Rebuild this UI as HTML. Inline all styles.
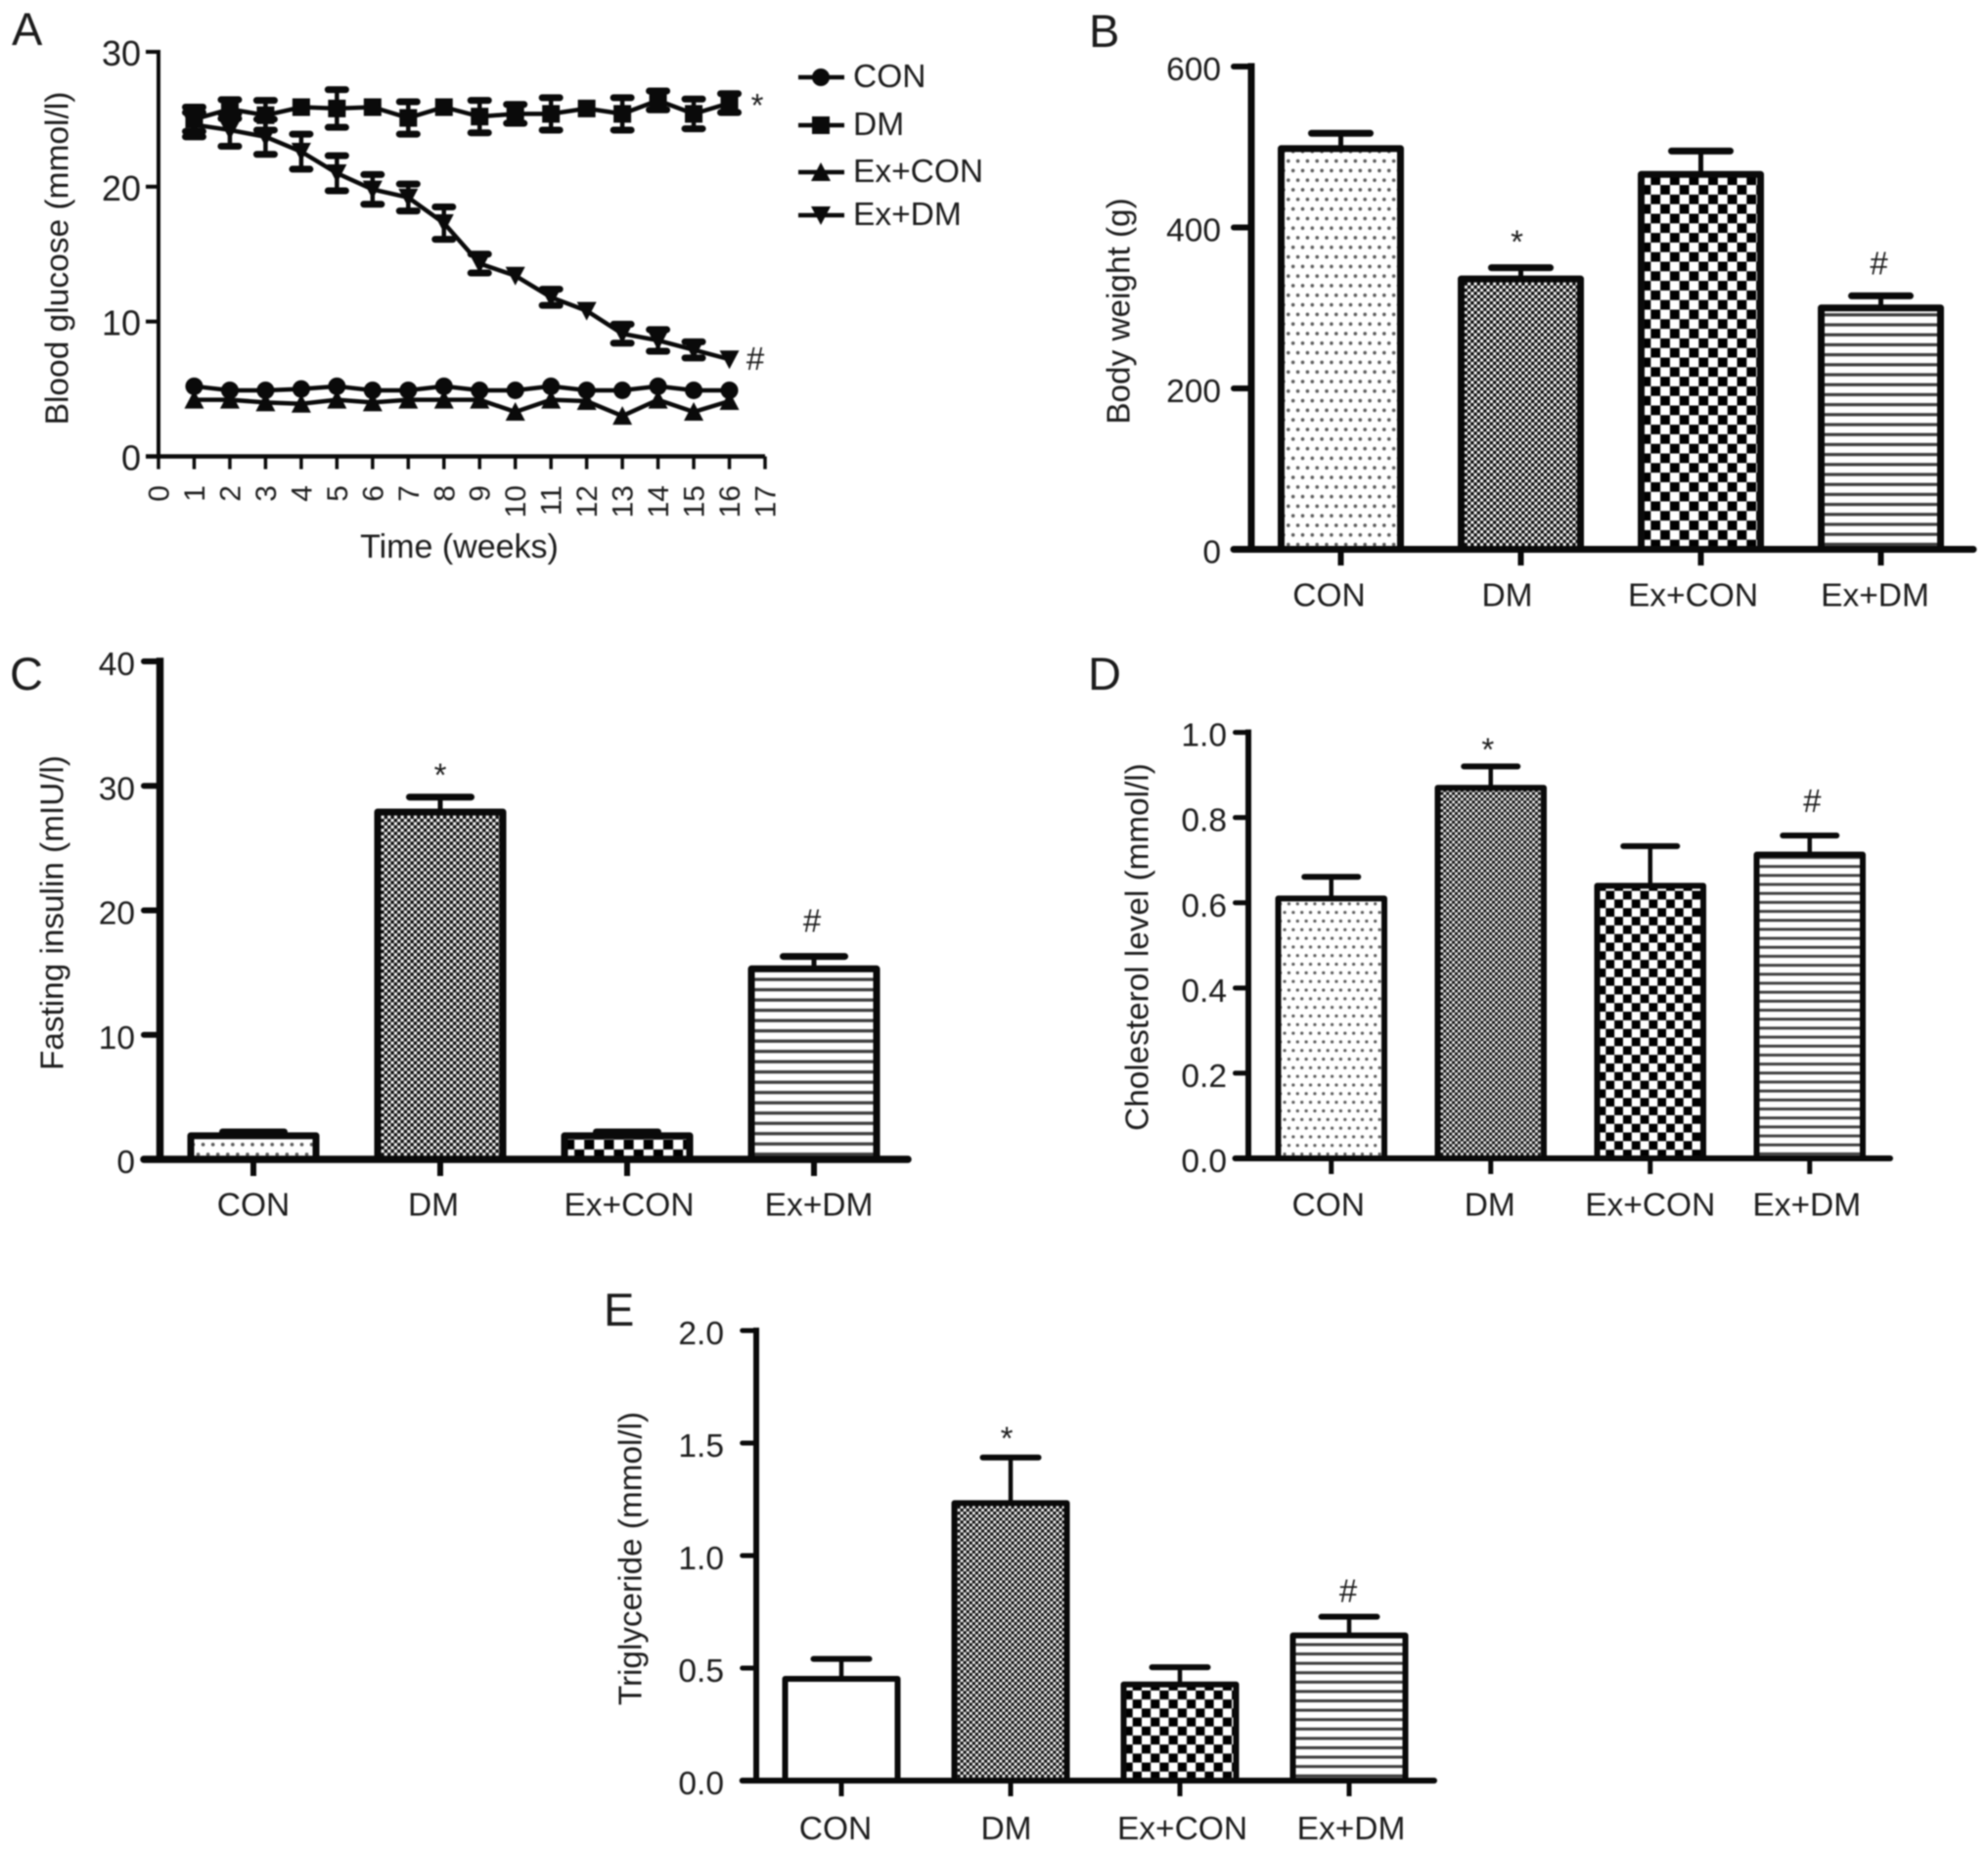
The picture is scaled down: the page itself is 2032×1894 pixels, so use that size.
<!DOCTYPE html>
<html lang="en">
<head>
<meta charset="utf-8">
<title>Blood glucose, body weight, insulin, cholesterol and triglyceride panels</title>
<style>
html,body{margin:0;padding:0;background:#fff;}
svg{display:block;filter:blur(0.7px);}
text{font-family:"Liberation Sans",Arial,sans-serif;fill:#1c1c1c;}
</style>
</head>
<body>
<svg id="figure" xmlns="http://www.w3.org/2000/svg" width="2032" height="1894" viewBox="0 0 2032 1894">
<rect width="2032" height="1894" fill="#fff"/>
<defs id="defs"></defs>
</svg>
<script>
/* ---------- data ---------- */
const categories = ['CON', 'DM', 'Ex+CON', 'Ex+DM'];
const significance = ['', '*', '', '#'];

const bodyWeightValues = [498, 336, 466, 300];
const bodyWeightErrors = [19, 14, 29, 15];
const bodyWeightTicks = ['0', '200', '400', '600'];

const insulinValues = [1.9, 27.9, 1.9, 15.3];
const insulinErrors = [0.3, 1.2, 0.3, 1.0];
const insulinTicks = ['0', '10', '20', '30', '40'];

const cholesterolValues = [0.61, 0.87, 0.64, 0.713];
const cholesterolErrors = [0.051, 0.05, 0.093, 0.045];
const cholesterolTicks = ['0.0', '0.2', '0.4', '0.6', '0.8', '1.0'];

const triglycerideValues = [0.452, 1.233, 0.427, 0.645];
const triglycerideErrors = [0.089, 0.203, 0.077, 0.083];
const triglycerideTicks = ['0.0', '0.5', '1.0', '1.5', '2.0'];

const weeks = [1, 2, 3, 4, 5, 6, 7, 8, 9, 10, 11, 12, 13, 14, 15, 16];
const weekTicks = [0, 1, 2, 3, 4, 5, 6, 7, 8, 9, 10, 11, 12, 13, 14, 15, 16, 17];
const glucoseTicks = ['0', '10', '20', '30'];
const conGlucose = [5.2, 4.9, 4.9, 5.0, 5.2, 4.9, 4.9, 5.2, 4.9, 4.9, 5.2, 4.9, 4.9, 5.2, 4.9, 4.9];
const dmGlucose = [25.0, 25.75, 25.3, 25.9, 25.8, 25.9, 25.1, 25.9, 25.2, 25.4, 25.4, 25.8, 25.4, 26.4, 25.4, 26.2];
const dmGlucoseErrors = [0.9, 0.7, 1.1, 0, 1.4, 0, 1.2, 0, 1.2, 0.7, 1.2, 0, 1.2, 0.7, 1.1, 0.7];
const exConGlucose = [4.2, 4.2, 4.0, 3.9, 4.2, 4.0, 4.2, 4.2, 4.2, 3.3, 4.2, 4.1, 3.0, 4.2, 3.3, 4.1];
const exDmGlucose = [24.6, 24.2, 23.7, 22.6, 21.0, 19.8, 19.2, 17.3, 14.3, 13.4, 11.8, 10.8, 9.1, 8.6, 7.9, 7.2];
const exDmGlucoseErrors = [0.9, 1.2, 1.3, 1.3, 1.3, 1.1, 1.0, 1.2, 0.7, 0, 0.6, 0, 0.7, 0.8, 0.6, 0];
const legendLabels = ['CON', 'DM', 'Ex+CON', 'Ex+DM'];

/* ---------- helpers ---------- */
const NS = 'http://www.w3.org/2000/svg';
const svg = document.getElementById('figure');
const defs = document.getElementById('defs');
const INK = '#0a0a0a';

function mk(tag, parent, attrs) {
  const node = document.createElementNS(NS, tag);
  for (const key in attrs) node.setAttribute(key, attrs[key]);
  parent.appendChild(node);
  return node;
}
function slug(s) {
  return s.toLowerCase().replace(/\+/g, '-').replace(/[^a-z0-9-]/g, '');
}
let patternId = 0;
function makePattern(kind, scale, originX, originY) {
  const id = 'fill-' + (patternId++);
  const base = 9.8;
  const tileW = kind === 'dots' ? base : kind === 'mesh' ? 6.5 : kind === 'checker' ? base * 2 : 20;
  const tileH = kind === 'dots' ? base * 2 : kind === 'mesh' ? 6.5 : kind === 'checker' ? base * 2 : 10.2;
  const p = mk('pattern', defs, {
    id: id, patternUnits: 'userSpaceOnUse', width: tileW, height: tileH,
    patternTransform: 'translate(' + originX + ' ' + originY + ') scale(' + scale + ')'
  });
  if (kind === 'dots') {
    mk('rect', p, { width: tileW, height: tileH, fill: '#fff' });
    mk('circle', p, { cx: 2.4, cy: 4.9, r: 1.8, fill: '#5a5a5a' });
    mk('circle', p, { cx: 7.3, cy: 14.7, r: 1.8, fill: '#5a5a5a' });
  } else if (kind === 'mesh') {
    mk('rect', p, { width: tileW, height: tileH, fill: '#7c7c7c' });
    mk('circle', p, { cx: 1.6, cy: 1.6, r: 1.5, fill: '#fff' });
    mk('circle', p, { cx: 4.85, cy: 4.85, r: 1.5, fill: '#fff' });
    mk('circle', p, { cx: 4.85, cy: 1.6, r: 1.7, fill: '#0a0a0a' });
    mk('circle', p, { cx: 1.6, cy: 4.85, r: 1.7, fill: '#0a0a0a' });
  } else if (kind === 'checker') {
    mk('rect', p, { width: tileW, height: tileH, fill: '#fff' });
    mk('rect', p, { x: 0, y: 0, width: base, height: base, fill: '#000' });
    mk('rect', p, { x: base, y: base, width: base, height: base, fill: '#000' });
  } else {
    mk('rect', p, { width: tileW, height: tileH, fill: '#fff' });
    mk('rect', p, { x: 0, y: 3.5, width: tileW, height: 3.2, fill: '#3c3c3c' });
  }
  return 'url(#' + id + ')';
}

function drawPanelLetter(letter, x, y) {
  const el = mk('text', svg, { x: x, y: y, 'font-size': 47 });
  
  
  el.textContent = letter;
}
function drawYTitle(group, text, x, yMid, size) {
  const el = mk('text', group, { x: x, y: yMid, 'font-size': size, 'text-anchor': 'middle', transform: 'rotate(-90 ' + x + ' ' + yMid + ')', 'dominant-baseline': 'central' });
  
  
  el.textContent = text;
}
function drawLine(group, x1, y1, x2, y2, width, name, cap) {
  const el = mk('line', group, { x1: x1, y1: y1, x2: x2, y2: y2, stroke: INK, 'stroke-width': width, 'stroke-linecap': cap || 'butt' });
  
  
  return el;
}

/* ---------- bar panels ---------- */
function drawBarPanel(cfg, values, errors, tickLabels) {
  const g = mk('g', svg, {});
  
  
  const yScale = function (v) { return cfg.y0 - (v / cfg.max) * (cfg.y0 - cfg.yTop); };
  const xLeft = function (i) { return cfg.firstBar + i * cfg.step; };
  const xMid = function (i) { return xLeft(i) + cfg.barWidth / 2; };

  categories.forEach(function (cat, i) {
    const kind = cfg.fills[i];
    const sw = cfg.strokeW;
    const fill = kind === 'blank' ? '#fff' : makePattern(kind, cfg.patScale, xLeft(i) + sw / 2, cfg.y0);
    const top = yScale(values[i]);
    const errTop = yScale(values[i] + errors[i]);
    const stem = drawLine(g, xMid(i), top, xMid(i), errTop, cfg.stemW, 'error-stem-' + slug(cat));
    stem.setAttribute('data-series', cat);
    drawLine(g, xMid(i) - cfg.capW / 2 + 3, errTop, xMid(i) + cfg.capW / 2 - 3, errTop, cfg.capT, 'error-cap-' + slug(cat), 'round');
    const bar = mk('rect', g, {
      x: xLeft(i) + sw / 2, y: top, width: cfg.barWidth - sw, height: cfg.y0 - top,
      fill: fill, stroke: INK, 'stroke-width': sw, 'stroke-linejoin': 'round'
    });
    
    
    drawLine(g, xMid(i), cfg.y0, xMid(i), cfg.tickBottom, cfg.tickW, 'x-tick-' + slug(cat));
    const label = mk('text', g, { x: xMid(i) + cfg.labelShift[i], y: cfg.labelY, 'font-size': 33.5, 'text-anchor': 'middle' });
    
    
    label.textContent = cat;
    if (significance[i]) {
      const isStar = significance[i] === '*';
      const mark = mk('text', g, {
        x: xMid(i) + (isStar ? cfg.starDx : cfg.hashDx),
        y: errTop - (isStar ? cfg.starDy : cfg.hashDy),
        'font-size': 33, 'text-anchor': 'middle'
      });
      
      
      mark.textContent = significance[i];
    }
  });

  drawLine(g, cfg.axisX, cfg.yTop - cfg.axisW / 2, cfg.axisX, cfg.y0, cfg.axisW, 'y-axis-line');
  drawLine(g, cfg.tickLeft, cfg.y0, cfg.xEnd, cfg.y0, cfg.axisW, 'x-axis-line', 'round');
  tickLabels.forEach(function (t) {
    const v = parseFloat(t);
    const y = yScale(v);
    drawLine(g, cfg.tickLeft, y, cfg.axisX, y, cfg.tickW, 'y-tick-' + t, 'round');
    const label = mk('text', g, { x: cfg.labelRight, y: y + 14, 'font-size': 33.5, 'text-anchor': 'end' });
    
    
    label.textContent = t;
  });
  drawYTitle(g, cfg.title, cfg.titleX, cfg.titleY, 33.3);
}

drawBarPanel({
  name: 'panel-b-body-weight', title: 'Body weight (g)', max: 600,
  axisX: 1279, yTop: 68, y0: 561.5, xEnd: 2017, tickLeft: 1261, tickBottom: 578, axisW: 7, tickW: 6,
  firstBar: 1306, step: 184, barWidth: 129, strokeW: 7, stemW: 5, capW: 66, capT: 7,
  labelY: 619.5, labelRight: 1248, titleX: 1144, titleY: 318,
  labelShift: [-12, -14, -8, -6], starDx: -4, hashDx: -2, starDy: 15, hashDy: 22,
  patScale: 1, fills: ['dots', 'mesh', 'checker', 'lines']
}, bodyWeightValues, bodyWeightErrors, bodyWeightTicks);

drawBarPanel({
  name: 'panel-c-fasting-insulin', title: 'Fasting insulin (mIU/l)', max: 40,
  axisX: 163.5, yTop: 676, y0: 1185, xEnd: 928, tickLeft: 147, tickBottom: 1202, axisW: 7.5, tickW: 6,
  firstBar: 191.5, step: 191, barWidth: 135, strokeW: 7, stemW: 5, capW: 69, capT: 7,
  labelY: 1242.5, labelRight: 138, titleX: 54, titleY: 933,
  labelShift: [0, -7, 2, 5], starDx: 0, hashDx: -2, starDy: 11, hashDy: 25,
  patScale: 1.03, fills: ['dots', 'mesh', 'checker', 'lines']
}, insulinValues, insulinErrors, insulinTicks);

drawBarPanel({
  name: 'panel-d-cholesterol', title: 'Cholesterol level (mmol/l)', max: 1,
  axisX: 1276, yTop: 748.6, y0: 1184, xEnd: 1932, tickLeft: 1262.5, tickBottom: 1200, axisW: 6, tickW: 5,
  firstBar: 1303.5, step: 163, barWidth: 114.5, strokeW: 6, stemW: 4.5, capW: 61, capT: 6,
  labelY: 1242.5, labelRight: 1254, titleX: 1163, titleY: 968,
  labelShift: [-3, -1, 0, -3], starDx: -3, hashDx: 2.5, starDy: 6, hashDy: 24,
  patScale: 0.9, fills: ['dots', 'mesh', 'checker', 'lines']
}, cholesterolValues, cholesterolErrors, cholesterolTicks);

drawBarPanel({
  name: 'panel-e-triglyceride', title: 'Triglyceride (mmol/l)', max: 2,
  axisX: 773, yTop: 1360, y0: 1820, xEnd: 1466, tickLeft: 758.7, tickBottom: 1836, axisW: 6, tickW: 5,
  firstBar: 799.5, step: 173, barWidth: 121, strokeW: 6, stemW: 4.5, capW: 63, capT: 6,
  labelY: 1880, labelRight: 740, titleX: 645, titleY: 1593,
  labelShift: [-6, -4.5, 2.5, 2], starDx: -4, hashDx: -1, starDy: 8, hashDy: 15,
  patScale: 0.94, fills: ['blank', 'mesh', 'checker', 'lines']
}, triglycerideValues, triglycerideErrors, triglycerideTicks);

/* ---------- panel A: line chart ---------- */
const gA = mk('g', svg, {});



const aLeft = 162, aRight = 782, aBottom = 466.5, aTop = 53;
function xWeek(w) { return aLeft + (w / 17) * (aRight - aLeft); }
function yGlucose(v) { return aBottom - (v / 30) * (aBottom - aTop); }

function drawMarker(parent, shape, x, y, name) {
  let el;
  if (shape === 'circle') {
    el = mk('circle', parent, { cx: x, cy: y, r: 9, fill: INK });
  } else if (shape === 'square') {
    el = mk('rect', parent, { x: x - 9, y: y - 9, width: 18, height: 18, fill: INK });
  } else if (shape === 'up') {
    el = mk('path', parent, { d: 'M' + x + ' ' + (y - 10) + 'L' + (x + 10) + ' ' + (y + 9) + 'L' + (x - 10) + ' ' + (y + 9) + 'Z', fill: INK });
  } else {
    el = mk('path', parent, { d: 'M' + x + ' ' + (y + 10) + 'L' + (x + 10) + ' ' + (y - 9) + 'L' + (x - 10) + ' ' + (y - 9) + 'Z', fill: INK });
  }
  
  
}

function drawSeries(label, shape, values, errors) {
  const g = mk('g', gA, {});
  
  
  const d = values.map(function (v, i) { return (i ? 'L' : 'M') + xWeek(weeks[i]) + ' ' + yGlucose(v); }).join('');
  const path = mk('path', g, { d: d, fill: 'none', stroke: INK, 'stroke-width': 4.5 });
  
  
  values.forEach(function (v, i) {
    const x = xWeek(weeks[i]);
    if (errors && errors[i] > 0) {
      const yHi = yGlucose(v + errors[i]);
      const yLo = yGlucose(v - errors[i]);
      drawLine(g, x, yHi, x, yLo, 4.5, 'error-bar-' + slug(label) + '-week-' + weeks[i]);
      drawLine(g, x - 9, yHi, x + 9, yHi, 7, 'error-cap-top-' + slug(label) + '-week-' + weeks[i], 'round');
      drawLine(g, x - 9, yLo, x + 9, yLo, 7, 'error-cap-bottom-' + slug(label) + '-week-' + weeks[i], 'round');
    }
    drawMarker(g, shape, x, yGlucose(v), 'point-' + slug(label) + '-week-' + weeks[i]);
  });
}
drawSeries('CON', 'circle', conGlucose, null);
drawSeries('Ex+CON', 'up', exConGlucose, null);
drawSeries('Ex+DM', 'down', exDmGlucose, exDmGlucoseErrors);
drawSeries('DM', 'square', dmGlucose, dmGlucoseErrors);

drawLine(gA, aLeft, aTop - 2, aLeft, aBottom, 4, 'y-axis-line');
drawLine(gA, aLeft - 13, aBottom, aRight, aBottom, 4.5, 'x-axis-line');
glucoseTicks.forEach(function (t) {
  const v = parseFloat(t);
  const y = yGlucose(v);
  drawLine(gA, aLeft - 13, y, aLeft, y, 4, 'y-tick-' + t);
  const label = mk('text', gA, { x: 144, y: y + 14, 'font-size': 36, 'text-anchor': 'end' });
  
  
  label.textContent = t;
});
weekTicks.forEach(function (w) {
  const x = xWeek(w);
  drawLine(gA, x, aBottom, x, aBottom + 13, 3.5, 'x-tick-' + w);
  const label = mk('text', gA, { x: x + 10.5, y: 496, 'font-size': 30, 'text-anchor': 'end', transform: 'rotate(-90 ' + (x + 10.5) + ' 496)' });
  
  
  label.textContent = w;
});
drawYTitle(gA, 'Blood glucose (mmol/l)', 59, 264, 33.5);

const xTitle = mk('text', gA, { x: 469.5, y: 570, 'font-size': 34, 'text-anchor': 'middle' });


xTitle.textContent = 'Time (weeks)';

const starA = mk('text', gA, { x: 774, y: 119, 'font-size': 33, 'text-anchor': 'middle' });


starA.textContent = '*';
const hashA = mk('text', gA, { x: 772, y: 378, 'font-size': 33, 'text-anchor': 'middle' });


hashA.textContent = '#';

const legendShapes = ['circle', 'square', 'up', 'down'];
const legendG = mk('g', gA, {});


legendLabels.forEach(function (name, i) {
  const y = 79 + [0, 49, 97, 141][i];
  drawLine(legendG, 816, y, 863, y, 4.5, 'legend-line-' + slug(name));
  drawMarker(legendG, legendShapes[i], 839, y, 'legend-marker-' + slug(name));
  const label = mk('text', legendG, { x: 872, y: y + 10, 'font-size': 33.5 });
  
  
  label.textContent = name;
});

/* ---------- panel letters ---------- */
drawPanelLetter('A', 12, 46);
drawPanelLetter('B', 1113, 48);
drawPanelLetter('C', 10, 705);
drawPanelLetter('D', 1112, 705);
drawPanelLetter('E', 617, 1355);
</script>
</body>
</html>
